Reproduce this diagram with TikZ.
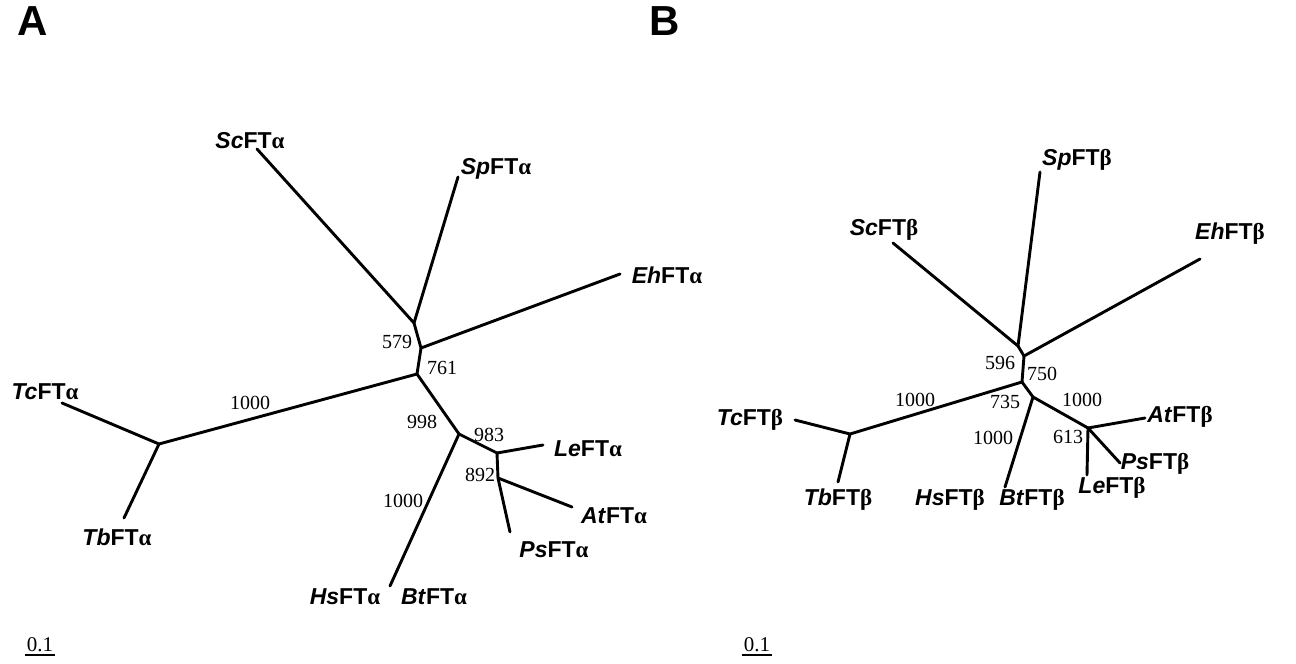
\documentclass[tikz,border=0pt]{standalone}
\usepackage{fontspec}
\setmainfont{Liberation Serif}
\setsansfont{Liberation Sans}
\newfontfamily\grk{Liberation Serif}
\newcommand\taxon[2]{\textit{#1}FT{\grk\bfseries #2}}
\begin{document}
\begin{tikzpicture}[x=1pt,y=-1pt,
  branch/.style={line width=2.9pt,line cap=round,line join=round},
  leaf/.style={font=\sffamily\bfseries\fontsize{23}{23}\selectfont,inner sep=0pt},
  boot/.style={font=\fontsize{20}{20}\selectfont,inner sep=0pt},
  panel/.style={font=\sffamily\bfseries\fontsize{42}{42}\selectfont,inner sep=0pt},
  scalebar/.style={font=\fontsize{21}{21}\selectfont,inner sep=0pt}]
\useasboundingbox (0,0) rectangle (1296,664);

% ---------- panel A ----------
\node[panel] (pA) at (33,21) {A};

\coordinate (a1) at (414,323);
\coordinate (a2) at (421,348);
\coordinate (a3) at (417,374);
\coordinate (a4) at (459,434);
\coordinate (a5) at (497,453);
\coordinate (a6) at (498,478);
\coordinate (aT) at (159,444);

\coordinate (eSc) at (257,149);
\coordinate (eSp) at (458,177);
\coordinate (eEh) at (620,274);
\coordinate (eTc) at (62,403);
\coordinate (eTb) at (124,518);
\coordinate (eHs) at (390,586);
\coordinate (eLe) at (543,445);
\coordinate (eAt) at (572,507);
\coordinate (ePs) at (510,532);

\draw[branch] (eSc) -- (a1) -- (a2) -- (a3) -- (a4) -- (a5) -- (a6) -- (ePs);
\draw[branch] (eSp) -- (a1);
\draw[branch] (a2) -- (eEh);
\draw[branch] (a3) -- (aT) -- (eTc);
\draw[branch] (aT) -- (eTb);
\draw[branch] (a4) -- (eHs);
\draw[branch] (a5) -- (eLe);
\draw[branch] (a6) -- (eAt);

\node[leaf] (lScA) at (250,141) {\taxon{Sc}{α}};
\node[leaf] (lSpA) at (496,169) {\taxon{Sp}{α}};
\node[leaf] (lEhA) at (667,275) {\taxon{Eh}{α}};
\node[leaf] (lTcA) at (45,392) {\taxon{Tc}{α}};
\node[leaf] (lTbA) at (117,537) {\taxon{Tb}{α}};
\node[leaf] (lHsA) at (345,597) {\taxon{Hs}{α}};
\node[leaf] (lBtA) at (434,597) {\taxon{Bt}{α}};
\node[leaf] (lLeA) at (588,449) {\taxon{Le}{α}};
\node[leaf] (lAtA) at (614,516) {\taxon{At}{α}};
\node[leaf] (lPsA) at (554,550) {\taxon{Ps}{α}};

\node[boot] (bA1) at (397,342) {579};
\node[boot] (bA2) at (442,368) {761};
\node[boot] (bA3) at (250,403) {1000};
\node[boot] (bA4) at (422,422) {998};
\node[boot] (bA5) at (489,435) {983};
\node[boot] (bA6) at (480,475) {892};
\node[boot] (bA7) at (403,501) {1000};

\node[scalebar] (sA) at (40,645) {0.1};
\draw[line width=1.8pt] ([xshift=-2pt,yshift=-3pt]sA.south west) coordinate (sAl) -- ([xshift=2pt,yshift=-3pt]sA.south east) coordinate (sAr);

% ---------- panel B ----------
\node[panel] (pB) at (665,21) {B};

\coordinate (b1) at (1018,346);
\coordinate (b2) at (1024,356);
\coordinate (b3) at (1022,382);
\coordinate (b4) at (1033,397);
\coordinate (b5) at (1088,428);
\coordinate (bT) at (850,434);

\coordinate (fSc) at (893,243);
\coordinate (fSp) at (1040,172);
\coordinate (fEh) at (1200,259);
\coordinate (fTc) at (795,420);
\coordinate (fTb) at (838,482);
\coordinate (fHs) at (1005,487);
\coordinate (fAt) at (1145,418);
\coordinate (fPs) at (1120,463);
\coordinate (fLe) at (1087,475);

\draw[branch] (fSc) -- (b1) -- (b2) -- (b3) -- (b4) -- (b5) -- (fPs);
\draw[branch] (fSp) -- (b1);
\draw[branch] (b2) -- (fEh);
\draw[branch] (b3) -- (bT) -- (fTc);
\draw[branch] (bT) -- (fTb);
\draw[branch] (b4) -- (fHs);
\draw[branch] (b5) -- (fAt);
\draw[branch] (b5) -- (fLe);

\node[leaf] (lScB) at (884,230) {\taxon{Sc}{β}};
\node[leaf] (lSpB) at (1077,160) {\taxon{Sp}{β}};
\node[leaf] (lEhB) at (1230,234) {\taxon{Eh}{β}};
\node[leaf] (lTcB) at (750,420) {\taxon{Tc}{β}};
\node[leaf] (lTbB) at (838,500) {\taxon{Tb}{β}};
\node[leaf] (lHsB) at (950,500) {\taxon{Hs}{β}};
\node[leaf] (lBtB) at (1032,500) {\taxon{Bt}{β}};
\node[leaf] (lLeB) at (1112,488) {\taxon{Le}{β}};
\node[leaf] (lPsB) at (1155,464) {\taxon{Ps}{β}};
\node[leaf] (lAtB) at (1180,417) {\taxon{At}{β}};

\node[boot] (bB1) at (1000,363) {596};
\node[boot] (bB2) at (1042,374) {750};
\node[boot] (bB3) at (915,400) {1000};
\node[boot] (bB4) at (1005,402) {735};
\node[boot] (bB5) at (993,438) {1000};
\node[boot] (bB6) at (1082,400) {1000};
\node[boot] (bB7) at (1068,437) {613};

\node[scalebar] (sB) at (757,645) {0.1};
\draw[line width=1.8pt] ([xshift=-2pt,yshift=-3pt]sB.south west) coordinate (sBl) -- ([xshift=2pt,yshift=-3pt]sB.south east) coordinate (sBr);
\end{tikzpicture}
\end{document}
